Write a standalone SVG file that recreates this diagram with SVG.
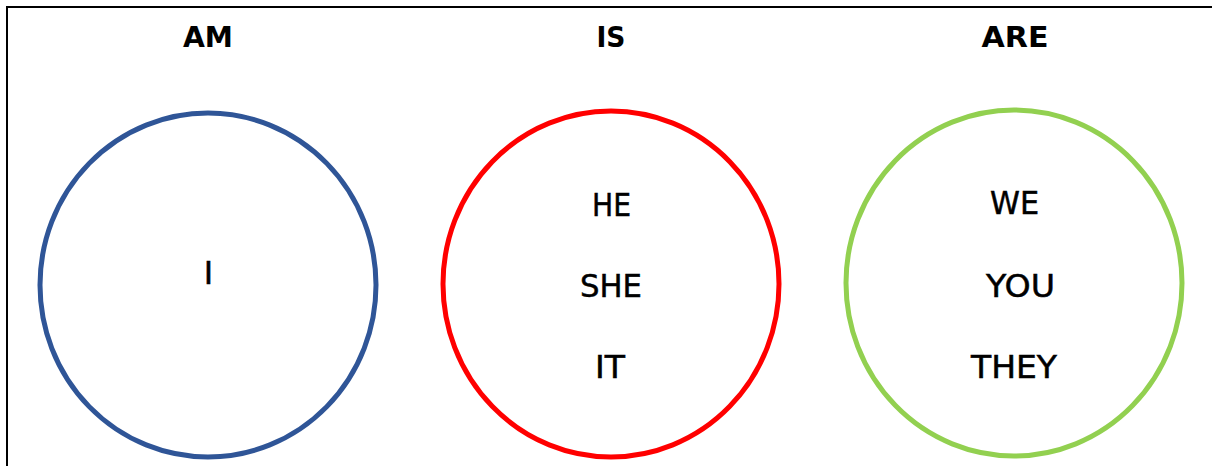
<svg xmlns="http://www.w3.org/2000/svg" width="1212" height="466" viewBox="0 0 1212 466">
<style>
.title{font-family:"DejaVu Sans","Liberation Sans",sans-serif;font-weight:bold;font-size:29px;fill:#000;text-anchor:middle}
.word{font-family:"DejaVu Sans","Liberation Sans",sans-serif;font-size:32px;fill:#000;stroke:#000;stroke-width:0.5;text-anchor:middle}
.ring{fill:none;stroke-width:5}
</style>
<rect width="1212" height="466" fill="#fff"/>
<g id="frame">
<path d="M7 466 V7 H1212" fill="none" stroke="#000" stroke-width="2"/>
</g>
<g id="am">
<text class="title" x="208" y="47" textLength="50" lengthAdjust="spacingAndGlyphs">AM</text>
<ellipse class="ring" cx="208" cy="285" rx="168" ry="172" stroke="#2F5597"/>
<text class="word" x="208.5" y="284">I</text>
</g>
<g id="is">
<text class="title" x="611" y="47" textLength="29" lengthAdjust="spacingAndGlyphs">IS</text>
<ellipse class="ring" cx="611" cy="284" rx="168" ry="173" stroke="#FF0000"/>
<text class="word" x="611.5" y="216" textLength="39" lengthAdjust="spacingAndGlyphs">HE</text>
<text class="word" x="611" y="297" textLength="62" lengthAdjust="spacingAndGlyphs">SHE</text>
<text class="word" x="610" y="378" textLength="30" lengthAdjust="spacingAndGlyphs">IT</text>
</g>
<g id="are">
<text class="title" x="1015" y="47" textLength="67" lengthAdjust="spacingAndGlyphs">ARE</text>
<ellipse class="ring" cx="1014" cy="283" rx="168" ry="173" stroke="#92D050"/>
<text class="word" x="1014.5" y="214" textLength="49" lengthAdjust="spacingAndGlyphs">WE</text>
<text class="word" x="1020.5" y="297" textLength="69" lengthAdjust="spacingAndGlyphs">YOU</text>
<text class="word" x="1014" y="378" textLength="86" lengthAdjust="spacingAndGlyphs">THEY</text>
</g>
<g id="connectors"></g>
</svg>
